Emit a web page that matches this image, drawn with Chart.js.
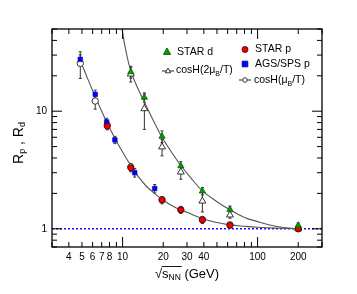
<!DOCTYPE html>
<html>
<head>
<meta charset="utf-8">
<script src="https://cdn.jsdelivr.net/npm/chart.js@4"></script>
<style>
  html, body { margin: 0; padding: 0; background: #fff; }
  #wrap { width: 357px; height: 294px; }
</style>
</head>
<body>
<div id="wrap"><canvas id="c" width="357" height="294"></canvas></div>
<script>
// values
const starPEnergy = [7.7, 11.5, 19.6, 27, 39, 62.4, 200];
const starP = [7.45, 3.3, 1.75, 1.45, 1.19, 1.07, 1.0];
const starPErr = [0.5, 0.25, 0.12, 0.1, 0.08, 0.05, 0.05];

const agsEnergy = [4.86, 6.27, 7.62, 8.77, 12.3, 17.3];
const agsP = [27.6, 13.9, 8.1, 5.7, 3.0, 2.2];
const agsPErr = [2.5, 1.2, 0.6, 0.4, 0.25, 0.18];

const starDEnergy = [11.5, 14.5, 19.6, 27, 39, 62.4, 200];
const starD = [21.6, 13.1, 6.1, 3.42, 2.09, 1.46, 1.07];
const starDErr = [2.5, 1.2, 0.7, 0.3, 0.15, 0.1, 0.05];

const cosh2Energy = [11.5, 14.5, 19.6, 27, 39, 62.4, 200];
const cosh2 = [20.7, 10.5, 4.97, 3.04, 1.72, 1.31, 1.0];
const cosh2Err = [3, 3.5, 0.8, 0.4, 0.33, 0.08, 0.03];

const cosh1Energy = [4.86, 6.27, 7.7, 11.5, 19.6, 27, 39, 62.4, 200];
const cosh1 = [25.5, 12.2, 7.6, 3.35, 1.77, 1.45, 1.2, 1.08, 1.0];
const cosh1Err = [6.5, 1.8, 0.5, 0.25, 0.1, 0.08, 0.06, 0.04, 0.02];

// fit curves
const lowCurveX = [4.86, 5.5, 6.27, 7, 7.7, 8.77, 10, 11.5, 13, 15, 17.3, 20, 25, 30, 40, 50, 62.4, 80, 100, 150, 200];
const lowCurveY = [27, 19, 13.3, 10, 7.9, 5.9, 4.5, 3.45, 2.8, 2.3, 2.0, 1.75, 1.5, 1.38, 1.21, 1.13, 1.08, 1.05, 1.03, 1.01, 1.0];
const highCurveX = [9.5, 9.9, 10.5, 11.5, 13, 14.5, 17, 19.6, 23, 27, 33, 39, 50, 62.4, 80, 100, 130, 160, 200];
const highCurveY = [62, 50, 34, 22, 15.5, 12, 8.2, 6.0, 4.5, 3.45, 2.6, 2.1, 1.7, 1.45, 1.25, 1.15, 1.06, 1.02, 1.0];

const xTicks = [4, 5, 6, 7, 8, 10, 20, 30, 40, 100, 200];
const yTicks = [1, 10];

const pts = (xs, ys) => xs.map((x, i) => ({ x: x, y: ys[i] }));
const FONT = "'Liberation Sans', Arial, sans-serif";

const datasets = [
  { label: "STAR d", data: pts(starDEnergy, starD), err: starDErr, pointStyle: "triangle",
    pointRadius: 3.6, backgroundColor: "#00a000", borderColor: "#006000", borderWidth: 0.8 },
  { label: "STAR p", data: pts(starPEnergy, starP), err: starPErr, pointStyle: "circle",
    pointRadius: 3, backgroundColor: "#ee0000", borderColor: "#550000", borderWidth: 0.8 },
  { label: "AGS/SPS p", data: pts(agsEnergy, agsP), err: agsPErr, pointStyle: "rect",
    pointRadius: 3.2, backgroundColor: "#0000ff", borderColor: "#0000aa", borderWidth: 0.6 },
  { label: "cosH(2muB/T)", data: pts(cosh2Energy, cosh2), err: cosh2Err, pointStyle: "triangle",
    pointRadius: 4, backgroundColor: "#ffffff", borderColor: "#222", borderWidth: 0.9 },
  { label: "cosH(muB/T)", data: pts(cosh1Energy, cosh1), err: cosh1Err, pointStyle: "circle",
    pointRadius: 3.2, backgroundColor: "#ffffff", borderColor: "#222", borderWidth: 0.9 },
  { label: "fit d", data: pts(highCurveX, highCurveY), showLine: true, pointRadius: 0,
    borderColor: "#555", borderWidth: 1.1, tension: 0.4 },
  { label: "fit p", data: pts(lowCurveX, lowCurveY), showLine: true, pointRadius: 0,
    borderColor: "#555", borderWidth: 1.1, tension: 0.4 }
];

function drawMarker(ctx, style, x, y, r, fill, stroke) {
  ctx.save();
  ctx.fillStyle = fill;
  ctx.strokeStyle = stroke;
  ctx.lineWidth = 0.9;
  ctx.beginPath();
  if (style === "circle") ctx.arc(x, y, r, 0, Math.PI * 2);
  else if (style === "rect") ctx.rect(x - r, y - r, 2 * r, 2 * r);
  else {
    ctx.moveTo(x, y - r);
    ctx.lineTo(x + r * 0.9, y + r * 0.6);
    ctx.lineTo(x - r * 0.9, y + r * 0.6);
    ctx.closePath();
  }
  ctx.fill();
  ctx.stroke();
  ctx.restore();
}

const extras = {
  id: "extras",
  beforeDatasetsDraw(chart) {
    const ctx = chart.ctx, xs = chart.scales.x, ys = chart.scales.y, a = chart.chartArea;
    ctx.save();
    ctx.beginPath();
    ctx.rect(a.left, a.top, a.right - a.left, a.bottom - a.top);
    ctx.clip();
    // error bars
    ctx.strokeStyle = "#333";
    ctx.lineWidth = 1;
    chart.data.datasets.forEach(ds => {
      if (!ds.err) return;
      ds.data.forEach((p, i) => {
        const px = xs.getPixelForValue(p.x);
        const y1 = ys.getPixelForValue(p.y + ds.err[i]);
        const y2 = ys.getPixelForValue(Math.max(p.y - ds.err[i], 0.01));
        ctx.beginPath();
        ctx.moveTo(px, y1); ctx.lineTo(px, y2);
        ctx.moveTo(px - 1.5, y1); ctx.lineTo(px + 1.5, y1);
        ctx.moveTo(px - 1.5, y2); ctx.lineTo(px + 1.5, y2);
        ctx.stroke();
      });
    });
    // dotted line at 1
    const y1 = ys.getPixelForValue(1);
    ctx.strokeStyle = "#1010ff";
    ctx.lineWidth = 1.5;
    ctx.setLineDash([2, 2]);
    ctx.beginPath();
    ctx.moveTo(a.left, y1); ctx.lineTo(a.right, y1);
    ctx.stroke();
    ctx.restore();
  },
  afterDraw(chart) {
    const ctx = chart.ctx, xs = chart.scales.x, ys = chart.scales.y, a = chart.chartArea;
    ctx.save();
    // frame
    ctx.strokeStyle = "#000";
    ctx.lineWidth = 1.3;
    ctx.strokeRect(a.left, a.top, a.right - a.left, a.bottom - a.top);
    // inward ticks
    ctx.lineWidth = 1;
    const yVals = [0.7, 0.8, 0.9, 1, 2, 3, 4, 5, 6, 7, 8, 9, 10, 20, 30, 40, 50];
    yVals.forEach(v => {
      const py = ys.getPixelForValue(v);
      const len = (v === 1 || v === 10) ? 10 : 5;
      ctx.beginPath();
      ctx.moveTo(a.left, py); ctx.lineTo(a.left + len, py);
      ctx.moveTo(a.right, py); ctx.lineTo(a.right - len, py);
      ctx.stroke();
    });
    const xVals = [3, 4, 5, 6, 7, 8, 9, 10, 20, 30, 40, 50, 60, 70, 80, 90, 100, 200, 300];
    xVals.forEach(v => {
      const px = xs.getPixelForValue(v);
      const len = (v === 10 || v === 100) ? 10 : 5;
      ctx.beginPath();
      ctx.moveTo(px, a.bottom); ctx.lineTo(px, a.bottom - len);
      ctx.moveTo(px, a.top); ctx.lineTo(px, a.top + len);
      ctx.stroke();
    });

    // legend
    ctx.fillStyle = "#000";
    ctx.textBaseline = "middle";
    const lf = "10.5px " + FONT, sf = "7px " + FONT;
    const sub = (parts, x, y) => {
      parts.forEach(([t, s]) => {
        ctx.font = s ? sf : lf;
        ctx.fillText(t, x, s ? y + 4 : y);
        x += ctx.measureText(t).width;
      });
    };
    drawMarker(ctx, "triangle", 167, 52, 4, "#00a000", "#006000");
    sub([["STAR d"]], 177, 52.5);
    ctx.strokeStyle = "#222";
    ctx.beginPath(); ctx.moveTo(162, 71); ctx.lineTo(174, 71); ctx.stroke();
    drawMarker(ctx, "triangle", 168, 71, 3, "#fff", "#222");
    sub([["cosH(2μ"], ["B", true], ["/T)"]], 176, 70.5);
    drawMarker(ctx, "circle", 245, 49.5, 3, "#ee0000", "#550000");
    sub([["STAR p"]], 255, 49.5);
    drawMarker(ctx, "rect", 245, 64, 2.8, "#0000ff", "#0000aa");
    sub([["AGS/SPS p"]], 255, 64.5);
    ctx.strokeStyle = "#222";
    ctx.beginPath(); ctx.moveTo(239, 80); ctx.lineTo(251, 80); ctx.stroke();
    drawMarker(ctx, "circle", 245, 80, 2.3, "#fff", "#222");
    sub([["cosH(μ"], ["B", true], ["/T)"]], 254, 80);

    // y title
    ctx.save();
    ctx.translate(19, 143);
    ctx.rotate(-Math.PI / 2);
    const tf = "14px " + FONT, tsf = "9px " + FONT;
    const yParts = [["R"], ["p", true], [" , R"], ["d", true]];
    let w = 0;
    yParts.forEach(([t, s]) => { ctx.font = s ? tsf : tf; w += ctx.measureText(t).width; });
    let x = -w / 2;
    yParts.forEach(([t, s]) => {
      ctx.font = s ? tsf : tf;
      ctx.fillText(t, x, s ? 4 : 0);
      x += ctx.measureText(t).width;
    });
    ctx.restore();

    // x title
    const xf = "13px " + FONT, xsf = "8.5px " + FONT;
    ctx.font = xf;
    const wRad = ctx.measureText("√").width;
    const wS = ctx.measureText("s").width;
    const wG = ctx.measureText(" (GeV)").width;
    ctx.font = xsf;
    const wNN = ctx.measureText("NN").width;
    let tx = (a.left + a.right) / 2 - (wRad + wS + wNN + wG) / 2;
    const ty = 274;
    ctx.font = xf;
    ctx.fillText("√", tx, ty);
    tx += wRad;
    ctx.fillText("s", tx, ty);
    ctx.font = xsf;
    ctx.fillText("NN", tx + wS, ty + 4);
    ctx.lineWidth = 0.9;
    ctx.strokeStyle = "#000";
    ctx.beginPath();
    ctx.moveTo(tx - 0.5, ty - 7.5); ctx.lineTo(tx + wS + wNN + 1, ty - 7.5);
    ctx.stroke();
    ctx.font = xf;
    ctx.fillText(" (GeV)", tx + wS + wNN, ty);
    ctx.restore();
  }
};

new Chart(document.getElementById("c"), {
  type: "scatter",
  data: { datasets: datasets },
  options: {
    responsive: false,
    animation: false,
    layout: { padding: { left: 0, right: 35, top: 29, bottom: 0 } },
    plugins: { legend: { display: false }, tooltip: { enabled: false } },
    scales: {
      x: {
        type: "logarithmic", min: 3, max: 300,
        grid: { display: false, drawTicks: false, tickLength: 0 }, border: { display: false },
        afterBuildTicks: s => { s.ticks = xTicks.map(v => ({ value: v })); },
        afterFit: s => { s.height = 47; },
        ticks: { color: "#000", padding: 4, maxRotation: 0, autoSkip: false,
          font: { family: FONT, size: 10 }, callback: v => String(v) }
      },
      y: {
        type: "logarithmic", min: 0.7, max: 50,
        grid: { display: false, drawTicks: false, tickLength: 0 }, border: { display: false },
        afterBuildTicks: s => { s.ticks = yTicks.map(v => ({ value: v })); },
        afterFit: s => { s.width = 52; },
        ticks: { color: "#000", padding: 5, font: { family: FONT, size: 10 },
          callback: v => String(v) }
      }
    }
  },
  plugins: [extras]
});
</script>
</body>
</html>
